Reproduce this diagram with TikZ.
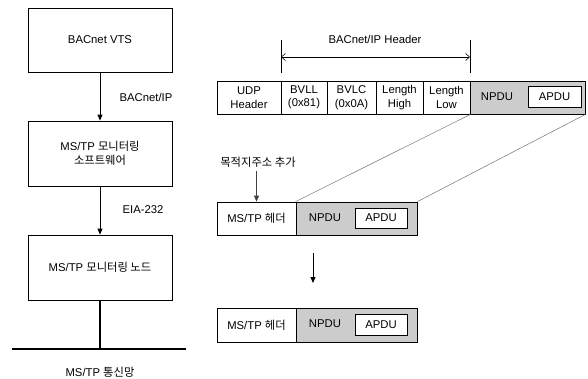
\documentclass[tikz,border=0pt]{standalone}
\usepackage{fontspec}
\setmainfont{Liberation Sans}
\newfontfamily\kr{Noto Sans CJK KR}
\usetikzlibrary{arrows.meta}
\begin{document}
\begin{tikzpicture}[x=1pt,y=-1pt,
  font=\fontsize{11.3}{13.5}\selectfont,
  box/.style={draw=black,line width=0.8pt,rectangle,inner sep=0pt,align=center},
  cell/.style={box,minimum height=33pt},
  gcell/.style={cell,fill=black!20},
  apdu/.style={box,fill=white},
  arr/.style={line width=0.8pt,-{Triangle[length=6pt,width=5pt]}},
  thick line/.style={line width=2.4pt},
  diag/.style={draw=black!55,line width=0.5pt},
  lbl/.style={inner sep=0pt}]
\useasboundingbox (0,0) rectangle (588,378);
% left column
\node[box,minimum width=144pt,minimum height=64pt] (vts) at (100,40) {BACnet VTS};
\node[box,minimum width=144pt,minimum height=65pt] (sw) at (100,153.5) {MS/TP {\kr 모니터링}\\[1pt]{\kr 소프트웨어}};
\node[box,minimum width=144pt,minimum height=65pt] (mon) at (100,267.5) {MS/TP {\kr 모니터링 노드}};
\draw[arr] (vts.south) -- (sw.north);
\draw[arr] (sw.south) -- (mon.north);
\node[lbl] (lip) at (146,97) {BACnet/IP};
\node[lbl] (leia) at (143,210) {EIA-232};
\coordinate (bus) at (100,349);
\coordinate (busl) at (12,349);
\coordinate (busr) at (186,349);
\draw[thick line] (mon.south) -- (bus);
\draw[thick line] (busl) -- (busr);
\node[lbl] (net) at (100,372) {MS/TP {\kr 통신망}};
% top packet row
\node[cell,minimum width=64pt] (udp) at (249,97.5) {UDP\\Header};
\node[cell,minimum width=46pt] (bvll) at (304,97.5) {BVLL\\(0x81)};
\node[cell,minimum width=49pt] (bvlc) at (351.5,97.5) {BVLC\\(0x0A)};
\node[cell,minimum width=47pt] (lh) at (399.5,97.5) {Length\\High};
\node[cell,minimum width=47pt] (ll) at (446.5,97.5) {Length\\Low};
\node[gcell,minimum width=115pt] (np1) at (527.5,97.5) {};
\node[lbl] (np1t) at (497,97) {NPDU};
\node[apdu,minimum width=53pt,minimum height=21pt] (ap1) at (554.5,96.5) {APDU};
% header dimension
\coordinate (t1a) at (281,40);
\coordinate (t1b) at (281,73);
\coordinate (t2a) at (470,40);
\coordinate (t2b) at (470,73);
\coordinate (d1) at (281,57);
\coordinate (d2) at (470,57);
\draw[line width=0.6pt] (t1a) -- (t1b);
\draw[line width=0.6pt] (t2a) -- (t2b);
\draw[line width=0.6pt,{Straight Barb[length=4pt,width=7pt]}-{Straight Barb[length=4pt,width=7pt]}] (d1) -- (d2);
\node[lbl] (hdr) at (375,39) {BACnet/IP Header};
% second row
\node[cell,minimum width=79pt] (h2) at (256.5,218.5) {MS/TP {\kr 헤더}};
\node[gcell,minimum width=121pt] (g2) at (356.5,218.5) {};
\node[lbl] (np2) at (325,218) {NPDU};
\node[apdu,minimum width=52pt,minimum height=20pt] (ap2) at (381,218) {APDU};
\draw[diag] (ll.south east) -- (g2.north west);
\draw[diag] (np1.south east) -- (g2.north east);
\node[lbl] (add) at (258,162) {\kr 목적지주소 추가};
\coordinate (addb) at (256.5,171);
\draw[arr,draw=black!75] (addb) -- (h2.north);
% down arrow
\coordinate (da) at (313,253);
\coordinate (db) at (313,283);
\draw[arr] (da) -- (db);
% third row
\node[cell,minimum width=79pt,minimum height=34pt] (h3) at (256.5,325) {MS/TP {\kr 헤더}};
\node[gcell,minimum width=121pt,minimum height=34pt] (g3) at (356.5,325) {};
\node[lbl] (np3) at (325,324) {NPDU};
\node[apdu,minimum width=52pt,minimum height=21pt] (ap3) at (381,324.5) {APDU};
\end{tikzpicture}
\end{document}
